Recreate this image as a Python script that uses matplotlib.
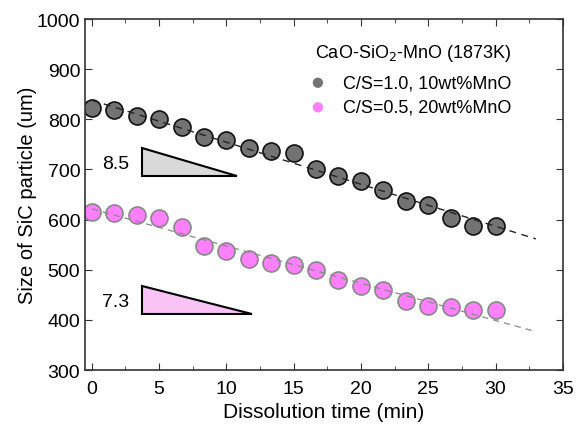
import matplotlib
matplotlib.use('Agg')
import matplotlib.pyplot as plt
from matplotlib.ticker import MultipleLocator
import numpy as np

plt.rcParams['font.family'] = ['Liberation Sans', 'DejaVu Sans']

# dissolution time (min), one point every 100 s
time = np.array([0, 1.67, 3.33, 5, 6.67, 8.33, 10, 11.67, 13.33, 15,
                 16.67, 18.33, 20, 21.67, 23.33, 25, 26.67, 28.33, 30])
# C/S=1.0, 10wt%MnO
size_cs10 = np.array([822, 819, 807, 800, 785, 764, 759, 743, 737, 732,
                      701, 687, 677, 659, 637, 630, 603, 588, 587])
# C/S=0.5, 20wt%MnO
size_cs05 = np.array([616, 613, 610, 603, 585, 548, 537, 522, 513, 510,
                      499, 480, 468, 460, 437, 428, 425, 420, 420])

fig = plt.figure(figsize=(5.79, 4.27), dpi=100)
ax = fig.add_axes([0.147, 0.131, 0.825, 0.822])

# linear fits, extended a bit past the data
t_fit = np.array([0, 33])
p1 = np.polyfit(time, size_cs10, 1)
p2 = np.polyfit(time, size_cs05, 1)
ax.plot(t_fit, np.polyval(p1, t_fit), ls=(0, (5, 4)), color='#222222', lw=1.0, zorder=3)
ax.plot(t_fit, np.polyval(p2, t_fit), ls=(0, (5, 4)), color='#888888', lw=0.9, zorder=3)

ax.scatter(time, size_cs10, s=150, c='#737373', edgecolors='#111111', linewidths=1.2, zorder=2)
ax.scatter(time, size_cs05, s=150, c='#ff80ff', edgecolors='#888888', linewidths=1.2, zorder=2)

# slope triangles
ax.fill([3.75, 3.75, 10.8], [743, 688, 688], facecolor='#d9d9d9', edgecolor='black', lw=1.5)
ax.fill([3.75, 3.75, 11.9], [468, 412, 412], facecolor='#f9c3f5', edgecolor='black', lw=1.5)
ax.text(2.8, 712, '8.5', fontsize=14, ha='right', va='center')
ax.text(2.8, 437, '7.3', fontsize=14, ha='right', va='center')

# legend
ax.text(23.9, 934, 'CaO-SiO$_2$-MnO (1873K)', fontsize=13, ha='center', va='center')
ax.scatter([16.8], [873], s=55, c='#737373', edgecolors='none')
ax.scatter([16.8], [824], s=55, c='#ff80ff', edgecolors='none')
ax.text(18.7, 873, 'C/S=1.0, 10wt%MnO', fontsize=13, va='center')
ax.text(18.7, 824, 'C/S=0.5, 20wt%MnO', fontsize=13, va='center')

ax.set_xlim(-0.5, 35)
ax.set_ylim(300, 1000)
ax.xaxis.set_major_locator(MultipleLocator(5))
ax.xaxis.set_minor_locator(MultipleLocator(2.5))
ax.yaxis.set_major_locator(MultipleLocator(100))
ax.tick_params(which='both', direction='in', top=True, right=True, labelsize=14, color='#333333')
ax.tick_params(which='major', length=5)
ax.tick_params(which='minor', length=3)
ax.tick_params(axis='x', pad=7)
for sp in ax.spines.values():
    sp.set_color('#333333')
    sp.set_linewidth(1.2)

ax.set_xlabel('Dissolution time (min)', fontsize=15, labelpad=4)
ax.set_ylabel('Size of SiC particle (um)', fontsize=14.5, labelpad=0)

fig.savefig('out.png', dpi=100)
